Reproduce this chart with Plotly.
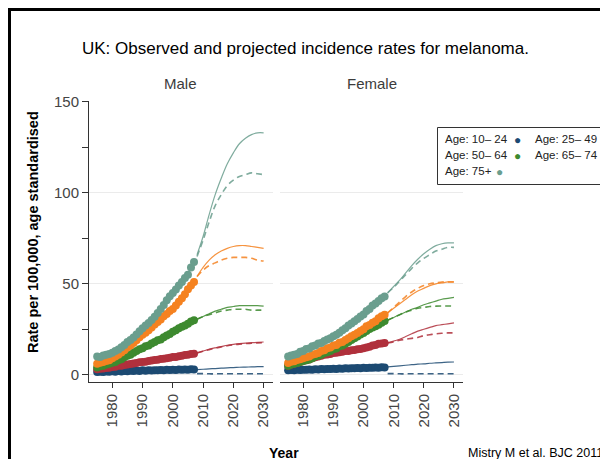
import plotly.graph_objects as go

# ---------------- data ----------------
years_obs = list(range(1975, 2008))
years_proj = list(range(2008, 2031, 2))

age_labels = ["Age: 10– 24", "Age: 25– 49", "Age: 50– 64", "Age: 65– 74", "Age: 75+"]
colors = ["#1c4a72", "#b0303c", "#3d8a2f", "#f58220", "#6a9e8e"]

# Male observed
m_obs_10_24 = [1.5, 1.7, 1.5, 1.8, 1.6, 1.9, 1.7, 2.0, 1.8, 2.1, 1.9, 2.2, 2.0, 2.3, 2.1, 2.4, 2.2, 2.5, 2.3, 2.5, 2.4, 2.6, 2.5, 2.7, 2.6, 2.8, 2.6, 2.9, 2.7, 2.9, 2.8, 3.0, 2.9]
m_obs_25_49 = [3.0, 3.3, 3.4, 3.7, 3.9, 4.3, 4.4, 4.9, 5.0, 5.4, 5.6, 5.9, 6.2, 6.5, 6.8, 7.0, 7.1, 7.6, 7.8, 8.1, 8.3, 8.6, 8.8, 9.1, 9.3, 9.7, 9.8, 10.2, 10.4, 10.8, 11.0, 11.4, 11.6]
m_obs_50_64 = [4.0, 4.6, 5.0, 5.6, 6.0, 6.6, 7.0, 8.0, 8.5, 9.6, 10.4, 11.0, 12.1, 13.0, 14.0, 14.5, 15.6, 16.0, 17.1, 18.0, 19.0, 19.4, 20.6, 21.5, 22.4, 23.6, 24.4, 25.6, 26.4, 27.1, 28.0, 29.2, 30.0]
m_obs_65_74 = [6.0, 6.6, 7.0, 7.6, 8.0, 9.1, 10.0, 11.0, 12.2, 13.4, 15.0, 16.1, 17.4, 19.0, 20.6, 22.0, 23.1, 24.4, 26.0, 27.6, 29.0, 30.4, 32.1, 33.4, 35.0, 36.2, 38.0, 40.1, 42.0, 44.2, 47.0, 49.1, 51.0]
m_obs_75p = [10.0, 9.8, 10.6, 11.0, 11.4, 12.1, 13.0, 13.9, 15.1, 16.4, 18.0, 19.1, 20.4, 22.1, 23.9, 25.6, 27.0, 28.4, 30.1, 31.9, 34.0, 36.1, 38.4, 41.0, 43.1, 45.0, 46.9, 49.1, 51.0, 53.2, 55.0, 59.0, 62.0]

# Male projections (solid and dashed model)
m_sol_10_24 = [2.8, 3.0, 3.2, 3.4, 3.6, 3.8, 3.9, 4.1, 4.2, 4.3, 4.4, 4.5]
m_das_10_24 = [0.6, 0.6, 0.5, 0.5, 0.5, 0.5, 0.5, 0.5, 0.5, 0.5, 0.5, 0.5]
m_sol_25_49 = [12.0, 13.0, 14.0, 14.8, 15.5, 16.2, 16.7, 17.1, 17.4, 17.6, 17.8, 18.0]
m_das_25_49 = [12.0, 12.9, 13.8, 14.6, 15.3, 15.9, 16.4, 16.8, 17.1, 17.3, 17.5, 17.6]
m_sol_50_64 = [30.5, 32.0, 33.5, 35.0, 36.0, 37.0, 37.5, 38.0, 38.0, 38.0, 38.0, 37.7]
m_das_50_64 = [30.5, 32.0, 33.0, 34.0, 35.0, 35.5, 36.0, 36.0, 36.0, 35.5, 35.5, 35.5]
m_sol_65_74 = [54.0, 59.0, 63.0, 66.0, 68.0, 69.5, 70.5, 71.0, 71.0, 70.5, 70.0, 69.5]
m_das_65_74 = [54.0, 57.5, 60.0, 61.5, 63.0, 64.0, 64.5, 64.5, 64.5, 64.0, 63.0, 62.5]
m_sol_75p = [66.0, 76.0, 88.0, 99.0, 108.0, 116.0, 122.0, 127.0, 130.0, 132.0, 133.0, 133.0]
m_das_75p = [65.0, 74.0, 84.0, 93.0, 99.0, 104.0, 107.0, 109.0, 110.0, 111.0, 110.5, 110.0]

# Female observed
f_obs_10_24 = [2.4, 2.6, 2.5, 2.7, 2.6, 2.8, 2.7, 2.9, 2.8, 3.0, 2.9, 3.1, 3.0, 3.2, 3.1, 3.3, 3.2, 3.4, 3.3, 3.5, 3.4, 3.6, 3.5, 3.7, 3.6, 3.8, 3.7, 3.9, 3.8, 4.0, 3.9, 4.1, 4.0]
f_obs_25_49 = [5.0, 5.6, 6.0, 6.4, 7.0, 7.6, 8.0, 8.4, 9.0, 9.6, 10.0, 10.4, 11.0, 11.1, 11.4, 12.0, 12.1, 12.4, 12.6, 13.0, 13.1, 13.4, 13.6, 14.0, 14.1, 14.6, 15.0, 15.4, 16.0, 16.4, 17.0, 17.1, 17.5]
f_obs_50_64 = [5.0, 5.6, 6.0, 6.4, 7.0, 7.6, 8.0, 8.4, 9.0, 10.0, 10.4, 11.0, 12.0, 12.4, 13.0, 14.0, 14.4, 15.6, 16.0, 17.0, 18.0, 19.1, 20.0, 21.0, 22.1, 23.0, 24.0, 25.1, 26.0, 26.6, 27.5, 28.6, 29.5]
f_obs_65_74 = [6.5, 7.1, 7.4, 8.1, 8.5, 9.0, 9.6, 10.0, 11.0, 11.4, 12.0, 13.1, 13.4, 14.6, 15.0, 16.0, 16.4, 17.6, 18.0, 19.1, 20.0, 21.1, 22.0, 23.0, 24.1, 25.0, 26.6, 27.4, 28.6, 29.4, 31.0, 32.1, 33.0]
f_obs_75p = [10.0, 10.6, 11.0, 11.4, 12.6, 13.0, 14.1, 14.4, 15.6, 16.0, 17.1, 17.4, 18.6, 19.4, 20.0, 21.1, 22.0, 23.1, 24.4, 25.6, 27.0, 28.1, 29.4, 30.6, 32.0, 33.1, 35.0, 36.1, 38.0, 39.1, 40.5, 42.0, 43.0]

# Female projections
f_sol_10_24 = [4.3, 4.6, 4.9, 5.2, 5.5, 5.8, 6.0, 6.3, 6.5, 6.7, 6.9, 7.0]
f_das_10_24 = [0.6, 0.6, 0.5, 0.5, 0.5, 0.5, 0.5, 0.5, 0.5, 0.5, 0.5, 0.5]
f_sol_25_49 = [17.5, 18.5, 19.5, 21.0, 22.5, 24.0, 25.0, 26.0, 27.0, 27.5, 28.0, 28.5]
f_das_25_49 = [17.5, 18.0, 19.0, 19.5, 20.0, 20.5, 21.5, 22.0, 22.5, 22.8, 23.0, 23.0]
f_sol_50_64 = [30.0, 31.5, 33.0, 34.5, 36.0, 37.0, 38.5, 39.5, 40.5, 41.5, 42.0, 42.5]
f_das_50_64 = [30.0, 31.5, 33.0, 34.5, 35.5, 36.5, 37.0, 37.5, 37.7, 37.8, 37.8, 37.7]
f_sol_65_74 = [34.0, 36.5, 39.0, 41.5, 44.0, 46.0, 47.5, 49.0, 50.0, 50.5, 51.0, 51.0]
f_das_65_74 = [34.0, 37.0, 40.0, 43.0, 45.5, 47.5, 49.0, 50.0, 50.5, 51.0, 51.0, 51.0]
f_sol_75p = [45.0, 48.5, 52.0, 56.0, 60.0, 63.5, 66.5, 69.0, 71.0, 72.0, 72.5, 72.5]
f_das_75p = [45.0, 48.0, 51.5, 55.0, 58.5, 61.5, 64.0, 66.0, 68.0, 69.0, 70.0, 70.0]

x_ticks = [1980, 1990, 2000, 2010, 2020, 2030]
y_ticks = [0, 50, 100, 150]

male = [
    (m_obs_10_24, m_sol_10_24, m_das_10_24),
    (m_obs_25_49, m_sol_25_49, m_das_25_49),
    (m_obs_50_64, m_sol_50_64, m_das_50_64),
    (m_obs_65_74, m_sol_65_74, m_das_65_74),
    (m_obs_75p, m_sol_75p, m_das_75p),
]
female = [
    (f_obs_10_24, f_sol_10_24, f_das_10_24),
    (f_obs_25_49, f_sol_25_49, f_das_25_49),
    (f_obs_50_64, f_sol_50_64, f_das_50_64),
    (f_obs_65_74, f_sol_65_74, f_das_65_74),
    (f_obs_75p, f_sol_75p, f_das_75p),
]

# ---------------- layout geometry ----------------
# The page puts the figure 8 px in from the window's top-left corner,
# so window-pixel positions are shifted by OFF when placing things.
OFF = 8
W, H = 608 - OFF, 459 - OFF
L, R, T, B = 89, 463, 101, 382   # plot area in window pixels


def px(x):
    return (x - L) / (R - L)


def py(y):
    return (B - y) / (B - T)


FONT = "Arial, Liberation Sans, sans-serif"

fig = go.Figure()

for panel, (xa, ya) in ((male, ("x", "y")), (female, ("x2", "y2"))):
    for (obs, sol, das), col in zip(panel, colors):
        fig.add_trace(go.Scatter(x=years_proj, y=das, mode="lines", xaxis=xa, yaxis=ya,
                                 line=dict(color=col, width=1.6, dash="6px,4px", shape="spline"),
                                 opacity=0.85, showlegend=False, hoverinfo="skip"))
        fig.add_trace(go.Scatter(x=years_proj, y=sol, mode="lines", xaxis=xa, yaxis=ya,
                                 line=dict(color=col, width=1.2, shape="spline"),
                                 opacity=0.85, showlegend=False, hoverinfo="skip"))
    for (obs, sol, das), col in zip(panel, colors):
        fig.add_trace(go.Scatter(x=years_obs, y=obs, mode="markers", xaxis=xa, yaxis=ya,
                                 marker=dict(color=col, size=8, line=dict(width=0)),
                                 showlegend=False))

xcommon = dict(range=[1972.3, 2033], tickvals=x_ticks, tickangle=-90, ticks="outside",
               ticklen=5, tickcolor="#333", showline=True, linecolor="#333", linewidth=1,
               showgrid=False, zeroline=False, automargin=False,
               tickfont=dict(family=FONT, size=15, color="#444"))

fig.update_layout(
    width=W, height=H,
    margin=dict(l=L - OFF, r=W - (R - OFF), t=T - OFF, b=H - (B - OFF), autoexpand=False),
    paper_bgcolor="white", plot_bgcolor="white",
    showlegend=False,
    xaxis=dict(domain=[0, px(272.7)], anchor="y", **xcommon),
    xaxis2=dict(domain=[px(280), 1], anchor="y2", **xcommon),
    yaxis=dict(range=[-4, 150.5], tickvals=y_ticks, ticks="outside", ticklen=6, tickcolor="#333",
               showline=True, linecolor="#333", linewidth=1, zeroline=False, automargin=False,
               showgrid=True, gridcolor="#ebebeb", gridwidth=1,
               minor=dict(dtick=25, tick0=0, ticks="outside", ticklen=6, tickcolor="#333", showgrid=False),
               tickfont=dict(family=FONT, size=15, color="#444"), anchor="x"),
    yaxis2=dict(matches="y", range=[-4, 150.5], tickvals=y_ticks, showticklabels=False, ticks="",
                showline=False, zeroline=False, showgrid=True, gridcolor="#ebebeb", gridwidth=1,
                anchor="x2"),
)


def note(text, x, y, size, color="#000", xanchor="center", angle=0):
    return dict(text=text, x=px(x), y=py(y), xref="paper", yref="paper", showarrow=False,
                xanchor=xanchor, yanchor="middle", textangle=angle,
                font=dict(family=FONT, size=size, color=color))


ann = [
    note("UK: Observed and projected incidence rates for melanoma.", 305, 48, 17),
    note("Male", 180.5, 83, 15, "#3c3c3c"),
    note("Female", 371.5, 83, 15, "#3c3c3c"),
    note("<b>Rate per 100,000, age standardised</b>", 33, 232, 14.5, angle=-90),
    note("<b>Year</b>", 284, 453, 14),
    note("Mistry M et al. BJC 2011", 466, 453, 12.5, xanchor="left"),
]

# legend (text followed by a coloured dot), drawn as annotations inside a box
leg_pos = [(443, 139, 518), (533, 139, 604), (443, 155, 518), (533, 155, 604), (443, 171, 499)]
for lab, col, (tx, ty, dx) in zip(age_labels, colors, leg_pos):
    ann.append(note(lab, tx, ty, 11.5, "#222", xanchor="left"))
    ann.append(note("●", dx, ty + 1, 12, col))
fig.update_layout(annotations=ann)

shapes = [
    # outer frame (left and top edges visible)
    dict(type="rect", xref="paper", yref="paper", x0=px(9.5), y0=py(480), x1=px(640), y1=py(9.5),
         line=dict(color="#000", width=3), fillcolor="rgba(0,0,0,0)", layer="above"),
    # legend box
    dict(type="rect", xref="paper", yref="paper", x0=px(437.5), y0=py(184.5), x1=px(640), y1=py(127.5),
         line=dict(color="#333", width=1), fillcolor="rgba(0,0,0,0)", layer="above"),
]
fig.update_layout(shapes=shapes)

fig.write_html("out.html")
